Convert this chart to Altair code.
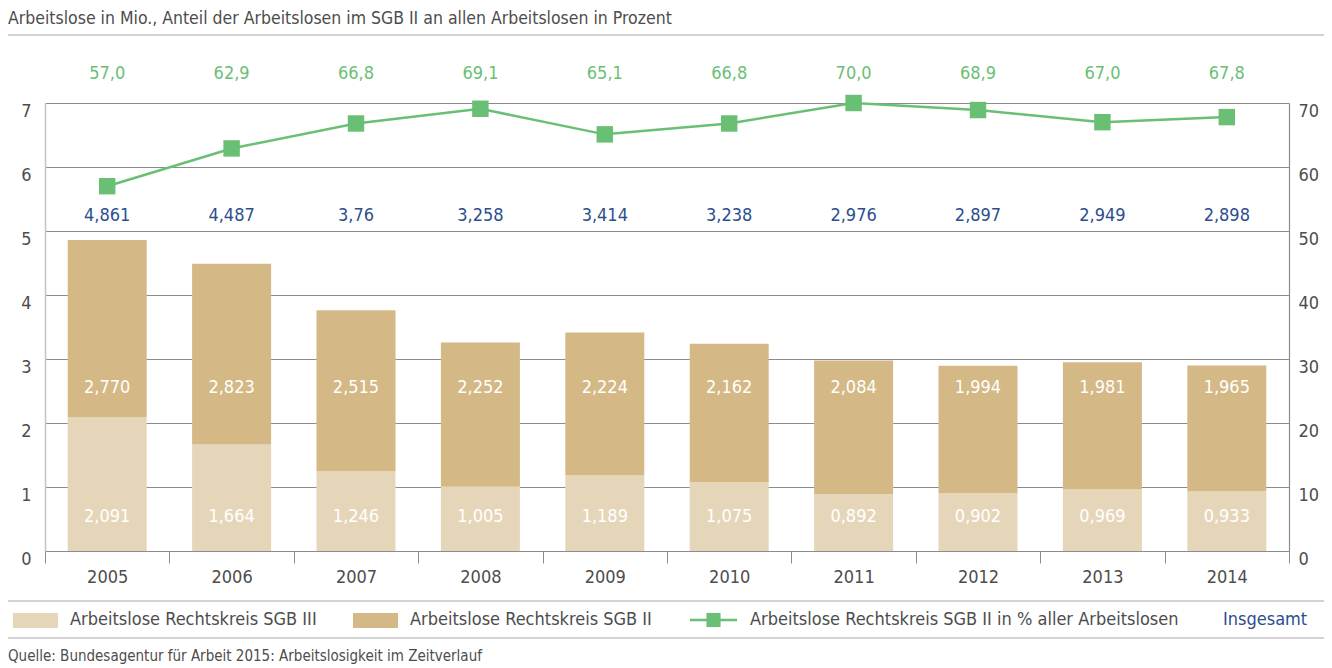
import altair as alt
import pandas as pd

years = ["2005", "2006", "2007", "2008", "2009", "2010", "2011", "2012", "2013", "2014"]
sgb3 = [2.091, 1.664, 1.246, 1.005, 1.189, 1.075, 0.892, 0.902, 0.969, 0.933]
sgb2 = [2.770, 2.823, 2.515, 2.252, 2.224, 2.162, 2.084, 1.994, 1.981, 1.965]
total = [4.861, 4.487, 3.76, 3.258, 3.414, 3.238, 2.976, 2.897, 2.949, 2.898]
pct = [57.0, 62.9, 66.8, 69.1, 65.1, 66.8, 70.0, 68.9, 67.0, 67.8]

TITLE = "Arbeitslose in Mio., Anteil der Arbeitslosen im SGB II an allen Arbeitslosen in Prozent"
SOURCE = "Quelle: Bundesagentur für Arbeit 2015: Arbeitslosigkeit im Zeitverlauf"
LEG3 = "Arbeitslose Rechtskreis SGB III"
LEG2 = "Arbeitslose Rechtskreis SGB II"
LEGP = "Arbeitslose Rechtskreis SGB II in % aller Arbeitslosen"
LEGT = "Insgesamt"

FONT = "DejaVu Sans Condensed, Roboto, sans-serif"
LIGHT = "#e6d6b9"
DARK = "#d4b885"
GREEN = "#69bf74"
BLUE = "#2c4e8e"
GRAY = "#4d4d4d"
GRID = "#8c8c8c"

def de(v, fmt):
    return format(v, fmt).replace(".", ",")

rows = []
for i, y in enumerate(years):
    rows.append({"year": y, "series": LEG3, "lo": 0.0, "hi": sgb3[i], "lab": de(sgb3[i], ".3f"), "ly": 0.53})
    rows.append({"year": y, "series": LEG2, "lo": sgb3[i], "hi": sgb3[i] + sgb2[i], "lab": de(sgb2[i], ".3f"), "ly": 2.55})
bars_df = pd.DataFrame(rows)
tot_df = pd.DataFrame({"year": years, "total": total, "lab": [str(t).replace(".", ",") for t in total]})
pct_df = pd.DataFrame({"year": years, "pct": pct, "lab": [de(p, ".1f") for p in pct]})
one = pd.DataFrame({"a": [0]})

x_enc = alt.X("year:O", title=None,
              scale=alt.Scale(paddingInner=0, paddingOuter=0),
              axis=alt.Axis(tickBand="extent", labelAngle=0, tickSize=12, tickColor=GRID,
                            domainColor=GRID, labelFontSize=18, labelColor=GRAY, labelFont=FONT,
                            labelPadding=5, grid=False))

yl_scale = alt.Scale(domain=[0, 7], nice=False, zero=True)
yr_scale = alt.Scale(domain=[0, 70], nice=False, zero=True)

bars = alt.Chart(bars_df).mark_bar(width=alt.RelativeBandSize(0.635)).encode(
    x=x_enc,
    y=alt.Y("lo:Q", scale=yl_scale, title=None,
            axis=alt.Axis(values=list(range(8)), grid=True, gridColor=GRID, gridWidth=1,
                          ticks=False, domainColor="#c4c4c4", domainWidth=1.5,
                          labelFontSize=18, labelColor=GRAY, labelFont=FONT,
                          labelPadding=14, labelOffset=8)),
    y2="hi:Q",
    color=alt.Color("series:N", scale=alt.Scale(domain=[LEG3, LEG2], range=[LIGHT, DARK]), legend=None),
)
seg_labels = alt.Chart(bars_df).mark_text(font=FONT, fontSize=18, color="white", baseline="middle").encode(
    x=x_enc, y=alt.Y("ly:Q", scale=yl_scale, axis=None), text="lab:N")
tot_labels = alt.Chart(tot_df).transform_calculate(ly="5.23").mark_text(
    font=FONT, fontSize=18, color=BLUE, baseline="middle").encode(
    x=x_enc, y=alt.Y("ly:Q", scale=yl_scale, axis=None), text="lab:N")

line = alt.Chart(pct_df).mark_line(color=GREEN, strokeWidth=2.5).encode(
    x=x_enc,
    y=alt.Y("pct:Q", scale=yr_scale, title=None,
            axis=alt.Axis(orient="right", values=list(range(0, 80, 10)), grid=False, ticks=False,
                          domainColor=GRID, domainWidth=1.2, labelFontSize=18, labelColor=GRAY,
                          labelFont=FONT, labelPadding=9, labelOffset=8)))
pts = alt.Chart(pct_df).mark_square(size=270, color=GREEN, opacity=1).encode(
    x=x_enc, y=alt.Y("pct:Q", scale=yr_scale, axis=None))
pct_labels = alt.Chart(pct_df).transform_calculate(ly="74.5").mark_text(
    font=FONT, fontSize=18, color=GREEN, baseline="middle").encode(
    x=x_enc, y=alt.Y("ly:Q", scale=yr_scale, axis=None), text="lab:N")

def hline(yv):
    return alt.Chart(one).mark_rule(color="#a8a8a8", strokeWidth=1.2).encode(
        x=alt.value(-37), x2=alt.value(1279), y=alt.value(yv))

def txt(s, xv, yv, color=GRAY, size=18, align="left"):
    return alt.Chart(one).mark_text(text=s, font=FONT, fontSize=size, color=color,
                                    align=align, baseline="middle").encode(
        x=alt.value(xv), y=alt.value(yv))

def swatch(x0, color):
    return alt.Chart(one).mark_rect(color=color).encode(
        x=alt.value(x0), x2=alt.value(x0 + 45), y=alt.value(510), y2=alt.value(525))

decor = [
    txt(TITLE, -37, -84.5, size=17.5),
    hline(-68),
    hline(498),
    hline(535),
    swatch(-32, LIGHT), txt(LEG3, 25, 517),
    swatch(308, DARK), txt(LEG2, 365, 517),
    alt.Chart(one).mark_rule(color=GREEN, strokeWidth=2.5).encode(
        x=alt.value(645), x2=alt.value(692), y=alt.value(517)),
    alt.Chart(one).mark_square(size=200, color=GREEN, opacity=1).encode(
        x=alt.value(668.5), y=alt.value(517)),
    txt(LEGP, 705, 517),
    txt(LEGT, 1178, 517, color=BLUE),
    txt(SOURCE, -37, 553, size=15),
]

chart = alt.layer(bars, seg_labels, tot_labels, line, pts, pct_labels, *decor).resolve_scale(
    y="independent").properties(
    width=1244, height=448,
    autosize=alt.AutoSizeParams(type="none"),
    padding={"left": 37, "top": 95, "right": 35, "bottom": 115},
).configure_view(stroke=None)

chart.save("out.html", embed_options={"renderer": "svg", "actions": False})
